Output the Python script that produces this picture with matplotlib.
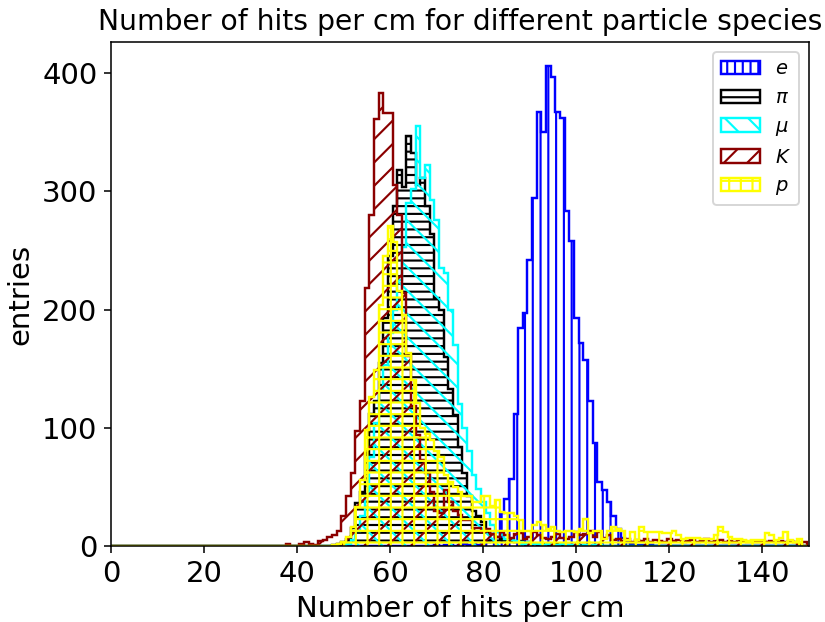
import numpy as np
import matplotlib
matplotlib.use("Agg")
import matplotlib.pyplot as plt
from matplotlib.ticker import MultipleLocator

plt.rcParams["hatch.linewidth"] = 1.1

# bin centres 0..149, unit width
edges = np.arange(-0.5, 150.5, 1.0)
centers = np.arange(0, 150)

# counts per species, listed from a start bin
e_start = 70
e_counts = [1, 0, 1, 1, 0, 1, 2, 1, 2, 1, 2, 3, 5, 12, 28, 40, 57, 112, 184, 197,
            242, 294, 367, 350, 406, 397, 367, 362, 283, 258, 193, 172, 157, 123, 87,
            54, 47, 37, 25, 14, 7, 3, 2, 1, 1, 0, 1]

pi_start = 48
pi_counts = [1, 2, 3, 6, 15, 36, 46, 79, 112, 123, 155, 193, 245, 288, 318, 304, 347,
             332, 305, 311, 288, 264, 210, 200, 160, 133, 111, 84, 62, 42, 30, 25, 20,
             12, 10, 8, 6, 5, 4, 3, 4, 2, 3, 2, 1, 2, 1, 1, 2, 1, 1, 1, 0, 1, 1, 0, 1]

mu_start = 50
mu_counts = [1, 2, 5, 13, 25, 42, 75, 104, 132, 153, 180, 200, 225, 253, 290, 302, 355,
             311, 322, 293, 276, 235, 231, 200, 170, 120, 100, 80, 60, 48, 37, 28, 18,
             12, 9, 6, 5, 4, 3, 2, 3, 2, 2, 1, 2, 1, 1, 2, 1, 1, 1, 0, 1, 0, 1, 1]

k_start = 38
k_counts = [2, 0, 0, 2, 3, 2, 1, 4, 5, 8, 9, 13, 25, 42, 62, 97, 123, 218, 280, 361, 383,
            366, 366, 305, 280, 214, 161, 118, 94, 73, 62, 46, 30, 28, 47, 37, 30, 26,
            22, 22, 15, 15, 12, 14, 10, 8, 12, 9, 7, 10, 11, 6, 8, 12, 9, 7, 6, 8, 10,
            7, 6, 8, 12, 9, 10, 13, 8, 12, 7, 9, 5, 6, 4, 6, 3, 5, 4, 6, 3, 5, 4, 3, 6,
            4, 5, 3, 4, 5, 3, 4, 6, 3, 4, 5, 3, 4, 3, 5, 4, 3, 4, 3, 4, 3, 4, 3, 4, 3,
            4, 3, 2, 3]

p_start = 48
p_counts = [1, 2, 3, 8, 16, 33, 56, 98, 126, 149, 204, 245, 271, 257, 216, 195, 163, 140,
            121, 100, 95, 90, 80, 75, 60, 54, 50, 46, 42, 42, 37, 37, 42, 42, 34, 39,
            29, 28, 28, 25, 22, 13, 13, 18, 20, 18, 14, 16, 13, 12, 13, 13, 12, 14, 23,
            11, 13, 13, 6, 13, 16, 14, 13, 5, 12, 5, 16, 12, 12, 12, 12, 11, 11, 13, 9,
            6, 7, 7, 7, 6, 6, 6, 9, 16, 12, 8, 6, 6, 5, 4, 5, 5, 5, 11, 9, 5, 7, 12, 5,
            3, 6]

species = ["$e$", r"$\pi$", r"$\mu$", "$K$", "$p$"]
colors = ["blue", "black", "cyan", "darkred", "yellow"]
hatches = ["|||", "---", "\\\\", "//", "++"]


def full_counts(start, counts):
    out = np.zeros(len(centers))
    out[start:start + len(counts)] = counts
    return out


all_counts = [full_counts(e_start, e_counts), full_counts(pi_start, pi_counts),
              full_counts(mu_start, mu_counts), full_counts(k_start, k_counts),
              full_counts(p_start, p_counts)]

fig = plt.figure(figsize=(825 / 140, 622 / 140), dpi=140)
ax = fig.add_axes([111 / 825, 1 - 546 / 622, (809 - 111) / 825, (546 - 42) / 622])

for cnt, lab, col, hat in zip(all_counts, species, colors, hatches):
    ax.hist(centers, bins=edges, weights=cnt, histtype="step", color=col,
            hatch=hat, label=lab, linewidth=1.25)

ax.set_xlim(0, 150)
ax.xaxis.set_major_locator(MultipleLocator(20))
ax.set_xlabel("Number of hits per cm", fontsize=15)
ax.set_ylabel("entries", fontsize=15)
ax.set_title("Number of hits per cm for different particle species", fontsize=14.5)
ax.tick_params(labelsize=15)
ax.legend(loc="upper right", fontsize=10, handlelength=2.0)

fig.savefig("out.png", dpi=140)
